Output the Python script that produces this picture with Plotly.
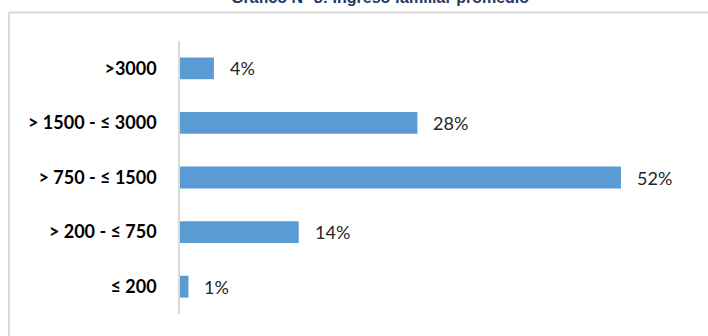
import plotly.graph_objects as go

# Household income brackets and share of families in each
categories = [">3000", "> 1500 - ≤ 3000", "> 750 - ≤ 1500", "> 200 - ≤ 750", "≤ 200"]
shares = [4, 28, 52, 14, 1]
share_labels = [f"{v}%" for v in shares]

title_text = "Gráfico N° 8: Ingreso familiar promedio"

W, H = 708, 336
margin = dict(l=180, r=8, t=41, b=22)
plot_w = W - margin["l"] - margin["r"]
plot_h = H - margin["t"] - margin["b"]


def px_to_paper_x(px):
    return (px - margin["l"]) / plot_w


def px_to_paper_y(py):
    return (H - margin["b"] - py) / plot_h


fig = go.Figure(
    go.Bar(
        x=shares,
        y=categories,
        orientation="h",
        marker=dict(color="#5B9BD5", line=dict(width=0)),
        hoverinfo="skip",
    )
)

# value labels to the right of each bar
for cat, val, lab in zip(categories, shares, share_labels):
    fig.add_annotation(
        x=val, y=cat, text=lab, showarrow=False,
        xanchor="left", yanchor="middle", xshift=14,
        font=dict(family="Lato, Open Sans, sans-serif", size=18, color="#262626"),
    )

# chart frame: top and left edges
frame_color = "#D9D9D9"
fig.add_shape(type="line", xref="paper", yref="paper",
              x0=px_to_paper_x(9), x1=px_to_paper_x(W + 5),
              y0=px_to_paper_y(12.5), y1=px_to_paper_y(12.5),
              line=dict(color=frame_color, width=2))
fig.add_shape(type="line", xref="paper", yref="paper",
              x0=px_to_paper_x(9), x1=px_to_paper_x(9),
              y0=px_to_paper_y(12.5), y1=px_to_paper_y(H + 5),
              line=dict(color=frame_color, width=2))

# chart title (sits at the very top edge)
fig.add_annotation(
    xref="paper", yref="paper",
    x=px_to_paper_x(380), y=px_to_paper_y(-2),
    text=f"<b>{title_text}</b>", showarrow=False,
    xanchor="center", yanchor="middle",
    font=dict(family="Liberation Sans, Arial, sans-serif", size=16, color="#1F3864"),
)

fig.update_layout(
    width=W, height=H,
    margin=margin,
    paper_bgcolor="white",
    plot_bgcolor="white",
    bargap=0.6,
    showlegend=False,
    xaxis=dict(range=[0, plot_w / 8.48], visible=False, fixedrange=True),
    yaxis=dict(
        categoryorder="array",
        categoryarray=categories[::-1],
        showline=True, linecolor="#D9D9D9", linewidth=1.5,
        ticks="", showgrid=False, zeroline=False,
        ticklabelstandoff=18,
        tickfont=dict(family="Lato, Open Sans, sans-serif", size=18, color="#000000", weight="bold"),
        fixedrange=True,
    ),
)

fig.write_html("out.html", config={"displayModeBar": False})
